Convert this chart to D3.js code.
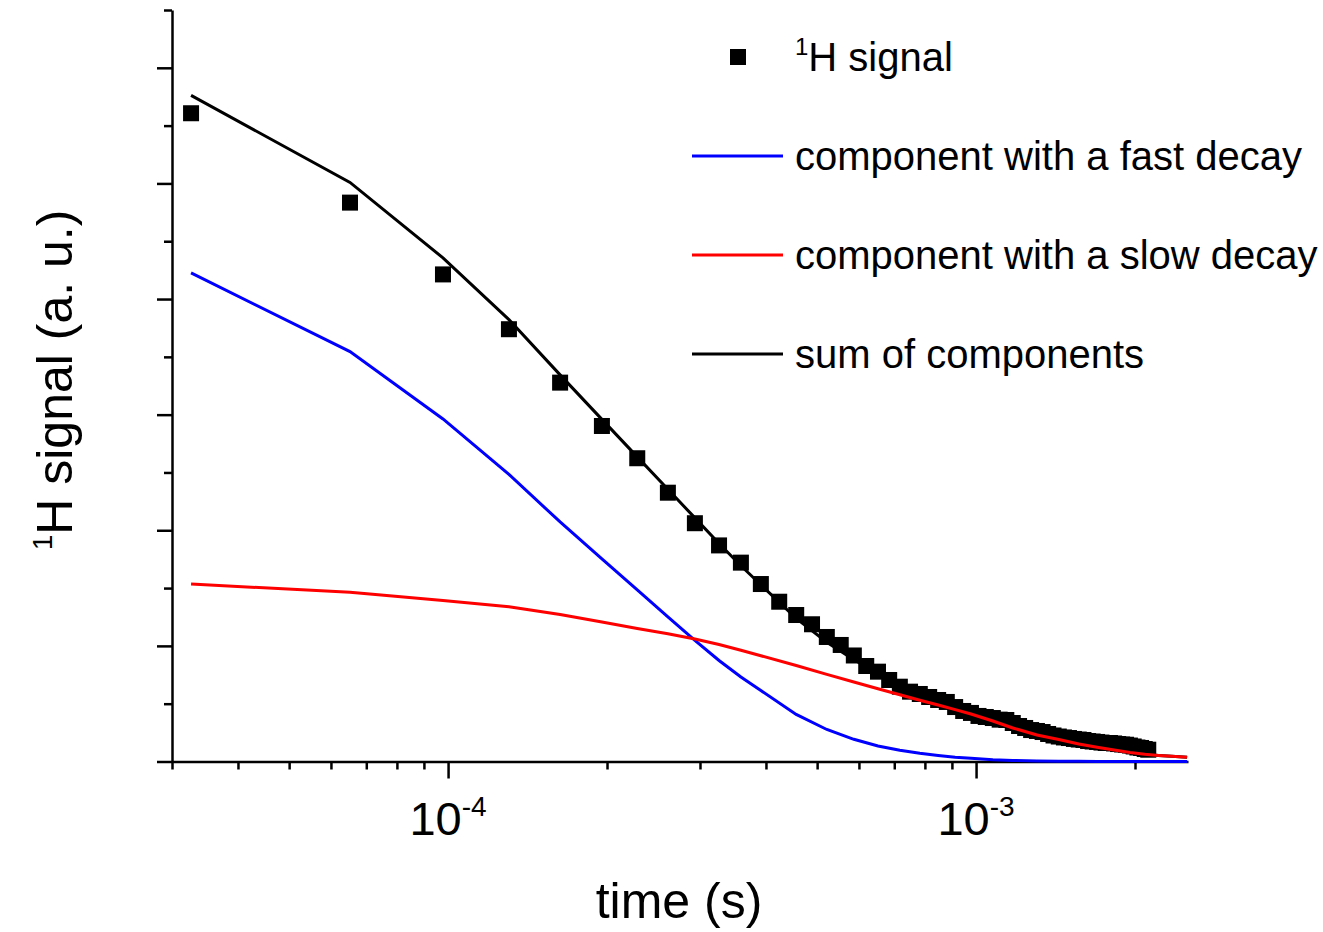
<!DOCTYPE html>
<html>
<head>
<meta charset="utf-8">
<script src="https://cdn.jsdelivr.net/npm/d3@7"></script>
<style>
  body { margin: 0; background: #fff; }
  svg { display: block; font-family: Arial, "Liberation Sans", sans-serif; }
  .axis path, .axis line { stroke: #000; stroke-width: 2.5; }
</style>
</head>
<body>
<div id="chart"></div>
<script>
const WIDTH = 1323;
const HEIGHT = 932;

// measured points, time in microseconds
const pointTimesUs = [32.6, 65.2, 97.8, 130.4, 163, 195.6, 228.2, 260.8, 293.4, 326,
    358.6, 391.2, 423.8, 456.4, 489, 521.6, 554.2, 586.8, 619.4, 652,
    684.6, 717.2, 749.8, 782.4, 815, 847.6, 880.2, 912.8, 945.4, 978,
    1010.6, 1043.2, 1075.8, 1108.4, 1141, 1173.6, 1206.2, 1238.8, 1271.4, 1304,
    1336.6, 1369.2, 1401.8, 1434.4, 1467, 1499.6, 1532.2, 1564.8, 1597.4, 1630,
    1662.6, 1695.2, 1727.8, 1760.4, 1793, 1825.6, 1858.2, 1890.8, 1923.4, 1956,
    1988.6, 2021.2, 2053.8, 2086.4, 2119];
const signal = [5.607, 4.834, 4.213, 3.739, 3.277, 2.902, 2.623, 2.325, 2.061, 1.869,
    1.720, 1.535, 1.382, 1.267, 1.187, 1.077, 1.008, 0.917, 0.826, 0.777,
    0.705, 0.647, 0.604, 0.584, 0.558, 0.532, 0.515, 0.471, 0.437, 0.420,
    0.394, 0.385, 0.376, 0.362, 0.359, 0.333, 0.307, 0.290, 0.272, 0.264,
    0.255, 0.238, 0.225, 0.216, 0.208, 0.203, 0.195, 0.190, 0.186, 0.177,
    0.173, 0.169, 0.164, 0.160, 0.160, 0.156, 0.151, 0.147, 0.145, 0.138,
    0.130, 0.121, 0.117, 0.108, 0.102];

// fitted curves, time in microseconds
const lineTimesUs = [32.6, 65.2, 97.8, 130.4, 163, 195.6, 228.2, 260.8, 293.4, 326,
    358.6, 391.2, 456.4, 521.6, 586.8, 652, 717.2, 782.4, 847.6, 912.8,
    978, 1075.8, 1173.6, 1304, 1434.4, 1564.8, 1695.2, 1825.6, 1956, 2086.4,
    2216.8, 2347.2, 2510.2];
const fastDecay = [4.226, 3.545, 2.963, 2.483, 2.072, 1.752, 1.484, 1.250, 1.047, 0.874,
    0.731, 0.614, 0.407, 0.277, 0.192, 0.134, 0.097, 0.071, 0.052, 0.037,
    0.028, 0.016, 0.009, 0.004, 0.003, 0.002, 0.001, 0, 0, 0,
    0, 0, 0];
const slowDecay = [1.535, 1.464, 1.393, 1.339, 1.272, 1.207, 1.151, 1.105, 1.060, 1.012,
    0.962, 0.915, 0.830, 0.754, 0.688, 0.629, 0.577, 0.530, 0.489, 0.449,
    0.411, 0.350, 0.290, 0.229, 0.190, 0.151, 0.124, 0.099, 0.078, 0.062,
    0.052, 0.045, 0.036];
const sumDecay = [5.761, 5.009, 4.356, 3.822, 3.344, 2.959, 2.635, 2.355, 2.107, 1.886,
    1.693, 1.529, 1.237, 1.031, 0.880, 0.763, 0.674, 0.601, 0.541, 0.486,
    0.439, 0.366, 0.299, 0.233, 0.193, 0.153, 0.125, 0.099, 0.078, 0.062,
    0.052, 0.045, 0.036];

const xMajor = [1e-4, 1e-3];
const xMajorLabels = [["10", "-4"], ["10", "-3"]];
const xMinor = [3e-5, 4e-5, 5e-5, 6e-5, 7e-5, 8e-5, 9e-5,
    2e-4, 3e-4, 4e-4, 5e-4, 6e-4, 7e-4, 8e-4, 9e-4, 2e-3];
const yMajor = [0, 1, 2, 3, 4, 5, 6];
const yMinor = [0.5, 1.5, 2.5, 3.5, 4.5, 5.5, 6.5];

const legendItems = [
    { type: "square", label: "signal", color: "#000" },
    { type: "line", label: "component with a fast decay", color: "#0000ff" },
    { type: "line", label: "component with a slow decay", color: "#ff0000" },
    { type: "line", label: "sum of components", color: "#000" }
];

const x = d3.scaleLog().domain([3e-5, 2.52e-3]).range([172, 1188]);
const y = d3.scaleLinear().domain([0, 6.5]).range([761.5, 10]);

const svg = d3.select("#chart").append("svg")
    .attr("width", WIDTH)
    .attr("height", HEIGHT);

const points = pointTimesUs.map((t, i) => ({ t: t * 1e-6, v: signal[i] }));
const toSeries = values => lineTimesUs.map((t, i) => ({ t: t * 1e-6, v: values[i] }));

const line = d3.line().x(d => x(d.t)).y(d => y(d.v));

// axes: minor ticks first, then major ticks with the axis line
svg.append("g").attr("class", "axis")
    .attr("transform", `translate(0,${y(0)})`)
    .call(d3.axisBottom(x).tickValues(xMinor).tickSize(8).tickFormat(""))
    .call(g => g.select(".domain").remove());
svg.append("g").attr("class", "axis")
    .attr("transform", `translate(0,${y(0)})`)
    .call(d3.axisBottom(x).tickValues(xMajor).tickSize(17).tickSizeOuter(0).tickFormat(""));
svg.append("g").attr("class", "axis")
    .attr("transform", `translate(${x(3e-5)},0)`)
    .call(d3.axisLeft(y).tickValues(yMinor).tickSize(8).tickFormat(""))
    .call(g => g.select(".domain").remove());
svg.append("g").attr("class", "axis")
    .attr("transform", `translate(${x(3e-5)},0)`)
    .call(d3.axisLeft(y).tickValues(yMajor).tickSize(15).tickSizeOuter(0).tickFormat(""));

// tick labels with superscript exponent
xMajor.forEach((v, i) => {
    const label = svg.append("text")
        .attr("x", x(v))
        .attr("y", 835)
        .attr("text-anchor", "middle")
        .attr("font-size", 47);
    label.append("tspan").text(xMajorLabels[i][0]);
    label.append("tspan").attr("font-size", 28).attr("dy", -19).text(xMajorLabels[i][1]);
});

svg.append("text")
    .attr("x", 679)
    .attr("y", 918)
    .attr("text-anchor", "middle")
    .attr("font-size", 50)
    .text("time (s)");

const yTitle = svg.append("text")
    .attr("transform", `translate(72,380) rotate(-90)`)
    .attr("text-anchor", "middle")
    .attr("font-size", 50);
yTitle.append("tspan").attr("font-size", 28).attr("dy", -20).text("1");
yTitle.append("tspan").attr("dy", 20).text("H signal (a. u.)");

// curves and data
svg.append("path")
    .datum(toSeries(fastDecay))
    .attr("fill", "none")
    .attr("stroke", "#0000ff")
    .attr("stroke-width", 3)
    .attr("d", line);

svg.append("path")
    .datum(toSeries(sumDecay))
    .attr("fill", "none")
    .attr("stroke", "#000")
    .attr("stroke-width", 3)
    .attr("d", line);

svg.append("g").selectAll("rect")
    .data(points)
    .join("rect")
    .attr("x", d => x(d.t) - 8)
    .attr("y", d => y(d.v) - 8)
    .attr("width", 16)
    .attr("height", 16)
    .attr("fill", "#000");

svg.append("path")
    .datum(toSeries(slowDecay))
    .attr("fill", "none")
    .attr("stroke", "#ff0000")
    .attr("stroke-width", 3)
    .attr("d", line);

// legend
const legend = svg.append("g").attr("font-size", 40);
legendItems.forEach((item, i) => {
    const cy = 57 + i * 99;
    if (item.type === "square") {
        legend.append("rect")
            .attr("x", 730).attr("y", cy - 8)
            .attr("width", 16).attr("height", 16)
            .attr("fill", item.color);
        const t = legend.append("text").attr("x", 795).attr("y", cy + 14);
        t.append("tspan").attr("font-size", 24).attr("dy", -16).text("1");
        t.append("tspan").attr("dy", 16).text("H " + item.label);
    } else {
        legend.append("line")
            .attr("x1", 692).attr("x2", 783)
            .attr("y1", cy).attr("y2", cy)
            .attr("stroke", item.color)
            .attr("stroke-width", 3);
        legend.append("text")
            .attr("x", 795).attr("y", cy + 14)
            .text(item.label);
    }
});
</script>
</body>
</html>
